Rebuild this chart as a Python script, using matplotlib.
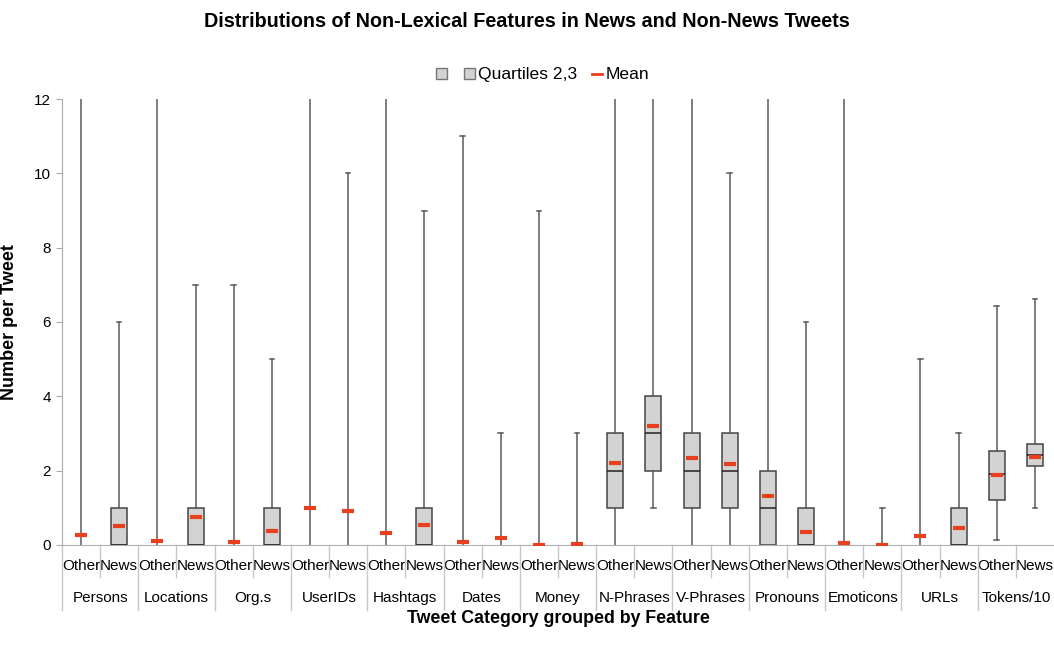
import matplotlib
matplotlib.use("Agg")
import matplotlib.pyplot as plt
from matplotlib.patches import Patch
from matplotlib.lines import Line2D
from matplotlib.transforms import blended_transform_factory

plt.rcParams['font.family'] = ['Liberation Sans', 'DejaVu Sans']

features = ["Persons", "Locations", "Org.s", "UserIDs", "Hashtags", "Dates", "Money",
            "N-Phrases", "V-Phrases", "Pronouns", "Emoticons", "URLs", "Tokens/10"]
subgroups = ["Other", "News"]

# per-box statistics, ordered feature by feature as (Other, News)
whisker_low = [0, 0,  0, 0,  0, 0,  0, 0,  0, 0,  0, 0,  0, 0,
               0, 1,  0, 0,  0, 0,  0, 0,  0, 0,  0.13, 1.0]
q1 =          [0, 0,  0, 0,  0, 0,  0, 0,  0, 0,  0, 0,  0, 0,
               1, 2,  1, 1,  0, 0,  0, 0,  0, 0,  1.2, 2.12]
median =      [0, 0,  0, 0,  0, 0,  0, 0,  0, 0,  0, 0,  0, 0,
               2, 3,  2, 2,  1, 0,  0, 0,  0, 0,  1.9, 2.41]
q3 =          [0, 1,  0, 1,  0, 1,  0, 0,  0, 1,  0, 0,  0, 0,
               3, 4,  3, 3,  2, 1,  0, 0,  0, 1,  2.52, 2.73]
whisker_high = [12, 6,  12, 7,  7, 5,  12, 10,  12, 9,  11, 3,  9, 3,
                12, 12,  12, 10,  12, 6,  12, 1,  5, 3,  6.43, 6.62]
means =       [0.28, 0.51,  0.12, 0.76,  0.08, 0.38,  0.99, 0.92,  0.33, 0.53,
               0.08, 0.20,  0.01, 0.02,  2.21, 3.20,  2.34, 2.17,  1.32, 0.35,
               0.05, 0.01,  0.24, 0.46,  1.89, 2.38]

Y_MAX = 12
BOX_FILL = "#d3d3d3"
EDGE = "#454545"
WHISKER = "#5a5a5a"
MEAN_RED = "#e8401c"
SEP = "#c8c8c8"

fig = plt.figure(figsize=(10.54, 6.57), dpi=100)
ax = fig.add_axes([0.0588, 0.1705, 0.9412, 0.6788])

positions = [g + off for g in range(len(features)) for off in (0.25, 0.75)]
stats = []
for i in range(len(positions)):
    stats.append(dict(whislo=whisker_low[i], q1=q1[i], med=median[i], q3=q3[i],
                      whishi=whisker_high[i], fliers=[]))

bp = ax.bxp(stats, positions=positions, widths=0.21, patch_artist=True,
            showfliers=False, manage_ticks=False,
            boxprops=dict(facecolor=BOX_FILL, edgecolor=EDGE, linewidth=1.1),
            medianprops=dict(color="#222222", linewidth=1.1),
            whiskerprops=dict(color=WHISKER, linewidth=1.1),
            capprops=dict(color=WHISKER, linewidth=1.1), capwidths=0.06)

# caps only where the whisker ends inside the plotting range
for i, cap in enumerate(bp['caps']):
    box_i = i // 2
    val = whisker_low[box_i] if i % 2 == 0 else whisker_high[box_i]
    if val <= 0 or val >= Y_MAX:
        cap.set_visible(False)
# boxes with no spread collapse onto the baseline
for i, box in enumerate(bp['boxes']):
    if q3[i] == q1[i]:
        box.set_visible(False)
        bp['medians'][i].set_visible(False)

ax.plot(positions, means, ls='none', marker='_', ms=9, mew=3, color=MEAN_RED, zorder=5)

ax.set_xlim(0, len(features))
ax.set_ylim(0, Y_MAX)
ax.set_yticks(range(0, 13, 2))
ax.tick_params(axis='y', labelsize=11, length=4, color="#aaaaaa", pad=4)
ax.set_xticks(positions)
ax.set_xticklabels(subgroups * len(features), fontsize=11)
ax.tick_params(axis='x', length=0, pad=10)
for s in ("top", "right"):
    ax.spines[s].set_visible(False)
ax.spines['left'].set_color("#aaaaaa")
ax.spines['bottom'].set_color("#b0b0b0")

trans = blended_transform_factory(ax.transData, ax.transAxes)
for g in range(len(features)):
    ax.plot([g, g], [0, -0.146], transform=trans, color=SEP, lw=1, clip_on=False)
    ax.plot([g + 0.5, g + 0.5], [0, -0.072], transform=trans, color=SEP, lw=1, clip_on=False)
    ax.text(g + 0.5, -0.118, features[g], transform=trans, ha='center', va='center',
            fontsize=11)

ax.set_ylabel("Number per Tweet", fontsize=13, fontweight='bold')
ax.yaxis.set_label_coords(-0.044, 0.5)
fig.text(0.53, 0.058, "Tweet Category grouped by Feature", ha='center', va='center',
         fontsize=12.8, fontweight='bold')
fig.text(0.5, 0.968, "Distributions of Non-Lexical Features in News and Non-News Tweets",
         ha='center', va='center', fontsize=14.2, fontweight='bold')

handles = [Patch(facecolor=BOX_FILL, edgecolor="#777777"),
           Patch(facecolor=BOX_FILL, edgecolor="#777777"),
           Line2D([], [], color=MEAN_RED, lw=2)]
leg = fig.legend(handles, ["", "Quartiles 2,3", "Mean"], loc='center',
                 bbox_to_anchor=(0.515, 0.886), ncol=3, frameon=False, fontsize=12.6,
                 handlelength=0.6, handleheight=0.6, handletextpad=0.2, columnspacing=0.8)

fig.savefig("out.png", dpi=100)
